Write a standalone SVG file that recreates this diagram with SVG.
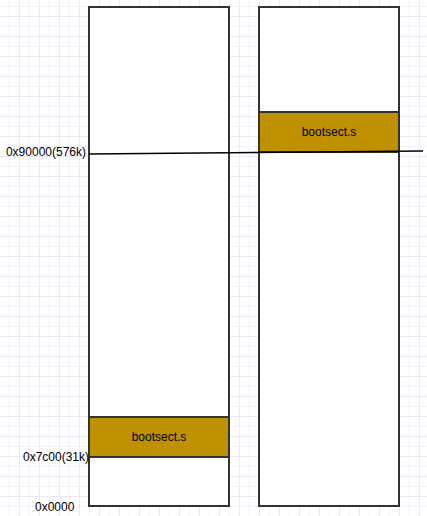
<svg xmlns="http://www.w3.org/2000/svg" width="427" height="516" viewBox="0 0 427 516">
  <defs>
    <pattern id="grid" x="9" y="6" width="20" height="20" patternUnits="userSpaceOnUse">
      <path d="M0.5 0 V20 M0 0.5 H20" stroke="#f4f2fb" stroke-width="1" fill="none"/>
      <path d="M10.5 0 V20 M0 10.5 H20" stroke="#ece9f7" stroke-width="1" fill="none"/>
    </pattern>
    <style>
      .box { fill: #ffffff; stroke: #333333; stroke-width: 2; }
      .seg { fill: #bf9000; stroke: #333333; stroke-width: 2; }
      .lbl { font-family: "Liberation Sans", Arial, sans-serif; font-size: 12px; fill: #000000; }
      .mid { text-anchor: middle; }
      .end { text-anchor: end; }
    </style>
  </defs>
  <rect x="0" y="0" width="427" height="516" fill="#ffffff"/>
  <rect x="0" y="0" width="427" height="516" fill="url(#grid)"/>

  <g id="memory-left">
    <rect class="box" x="89" y="7" width="140" height="499"/>
  </g>
  <g id="memory-right">
    <rect class="box" x="259" y="7" width="140" height="499"/>
  </g>
  <g id="bootsect-low">
    <rect class="seg" x="89" y="417" width="140" height="40"/>
    <text class="lbl mid" x="159" y="441">bootsect.s</text>
  </g>
  <g id="bootsect-high">
    <rect class="seg" x="259" y="112" width="140" height="40"/>
    <text class="lbl mid" x="329" y="136">bootsect.s</text>
  </g>

  <g id="connectors">
    <line x1="89" y1="154" x2="423" y2="151" stroke="#000000" stroke-width="1.5"/>
  </g>

  <g id="labels">
    <text class="lbl end" x="86" y="156">0x90000(576k)</text>
    <text class="lbl end" x="89" y="461">0x7c00(31k)</text>
    <text class="lbl" x="35" y="511">0x0000</text>
  </g>
</svg>
